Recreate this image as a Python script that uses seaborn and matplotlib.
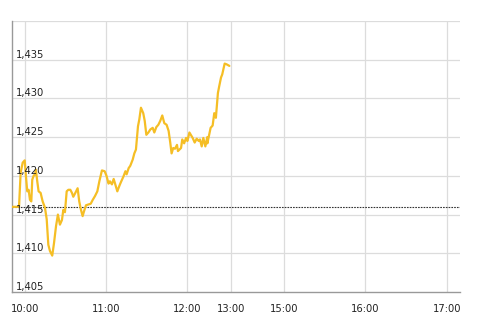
import numpy as np
import pandas as pd
import matplotlib
matplotlib.use("Agg")
import matplotlib.pyplot as plt
import matplotlib.transforms as mtrans
import seaborn as sns

# minutes since 10:00 on the (compressed) session axis
minutes = [-9.4, -4.4, -3.2, -1.7, -0.2, 0.7, 1.7, 2.7, 3.7, 4.7, 5.4, 6.4, 7.4, 8.1, 9.1,
           10.1, 11.6, 13.1, 14.8, 16.1, 17.3, 18.5, 20.2, 21.5, 23.0, 24.4, 25.9, 27.4,
           28.4, 29.6, 30.9, 32.1, 33.6, 34.8, 35.8, 37.3, 39.0, 40.2, 41.5, 42.7, 43.7,
           45.2, 46.9, 48.7, 50.2, 51.9, 53.6, 55.1, 57.0, 59.0, 60.4, 61.9, 62.9, 64.4,
           65.7, 66.9, 68.4, 69.9, 71.1, 72.9, 74.4, 75.3, 76.8, 78.0, 79.8, 81.0, 82.2,
           83.7, 84.7, 85.9, 87.6, 88.7, 89.9, 91.4, 92.9, 94.6, 95.8, 97.3, 98.8, 100.2,
           101.7, 103.2, 104.9, 106.4, 107.6, 108.6, 109.8, 111.1, 112.6, 113.3, 115.6,
           116.5, 117.9, 119.3, 120.3, 121.8, 124.2, 125.7, 127.2, 128.7, 129.6, 130.9,
           132.1, 133.6, 135.0, 135.1, 137.5, 139.0, 140.2, 141.4, 142.9, 143.9, 145.2,
           146.1, 147.9, 149.4, 151.4]
prices = [1416.0, 1416.0, 1420.4, 1421.7, 1422.0, 1420.0, 1418.0, 1418.2, 1416.9, 1416.7,
          1419.5, 1420.0, 1420.2, 1420.8, 1419.3, 1418.0, 1417.8, 1416.7, 1415.9, 1414.4,
          1411.1, 1410.3, 1409.7, 1411.3, 1413.5, 1415.0, 1413.7, 1414.3, 1415.6, 1415.3,
          1418.0, 1418.2, 1418.2, 1417.8, 1417.3, 1417.8, 1418.4, 1416.7, 1415.6, 1414.8,
          1415.4, 1416.2, 1416.3, 1416.4, 1416.9, 1417.4, 1418.0, 1419.3, 1420.7, 1420.6,
          1420.0, 1419.0, 1419.3, 1418.9, 1419.6, 1418.9, 1418.0, 1418.7, 1419.2, 1419.9,
          1420.6, 1420.2, 1421.0, 1421.3, 1422.1, 1422.9, 1423.4, 1426.4, 1427.3, 1428.8,
          1428.1, 1427.1, 1425.3, 1425.6, 1426.0, 1426.2, 1425.6, 1426.3, 1426.6, 1427.1,
          1427.8, 1426.8, 1426.6, 1425.8, 1424.3, 1422.9, 1423.6, 1423.5, 1424.0, 1423.2,
          1423.6, 1424.7, 1424.2, 1424.9, 1424.5, 1425.6, 1424.9, 1424.3, 1424.8, 1424.5,
          1424.7, 1423.8, 1424.9, 1423.8, 1425.0, 1424.2, 1426.2, 1426.5, 1428.1, 1427.5,
          1430.7, 1431.6, 1432.7, 1433.1, 1434.5, 1434.4, 1434.2]
prev_close = 1416.0

x_tick_pos = [0, 60, 120, 152.6, 191.9, 251.9, 312.6]
x_tick_labels = ["10:00", "11:00", "12:00", "13:00", "15:00", "16:00", "17:00"]
y_ticks = [1405, 1410, 1415, 1420, 1425, 1430, 1435]
y_tick_labels = ["1,405", "1,410", "1,415", "1,420", "1,425", "1,430", "1,435"]

n = min(len(minutes), len(prices))
df = pd.DataFrame({"t": minutes[:n], "price": prices[:n]})

sns.set_style("white")
plt.rcParams['font.family'] = ['DejaVu Sans']

fig = plt.figure(figsize=(4.83, 3.32), dpi=100)
ax = fig.add_axes([12/483, 40/332, 448/483, 271/332])

for xv in x_tick_pos:
    ax.axvline(xv, color="#dcdcdc", lw=0.9, zorder=0)
for yv in y_ticks[1:] + [1440]:
    ax.axhline(yv, color="#dcdcdc", lw=0.9, zorder=0)

ax.axhline(prev_close, color="#333333", lw=0.8, ls=(0, (1.5, 1)), zorder=1)

sns.lineplot(data=df, x="t", y="price", ax=ax, color="#F5BE25", lw=1.6, zorder=3)

ax.set_xlim(-9.6, 322.2)
ax.set_ylim(1405, 1440)
ax.set_xticks(x_tick_pos)
ax.set_xticklabels(x_tick_labels, fontsize=7.2, color="#222222")
ax.tick_params(axis="x", length=0, pad=9)
ax.set_yticks([])
ax.set_xlabel("")
ax.set_ylabel("")

trans = mtrans.offset_copy(ax.get_yaxis_transform(), fig=fig, x=0, y=5, units="dots")
for yv, lab in zip(y_ticks, y_tick_labels):
    ax.text(0.009, yv, lab, transform=trans, fontsize=7.2, color="#222222",
            ha="left", va="center")

for s in ["top", "right"]:
    ax.spines[s].set_visible(False)
for s in ["left", "bottom"]:
    ax.spines[s].set_color("#999999")
    ax.spines[s].set_linewidth(1.0)

fig.savefig("out.png", dpi=100)
